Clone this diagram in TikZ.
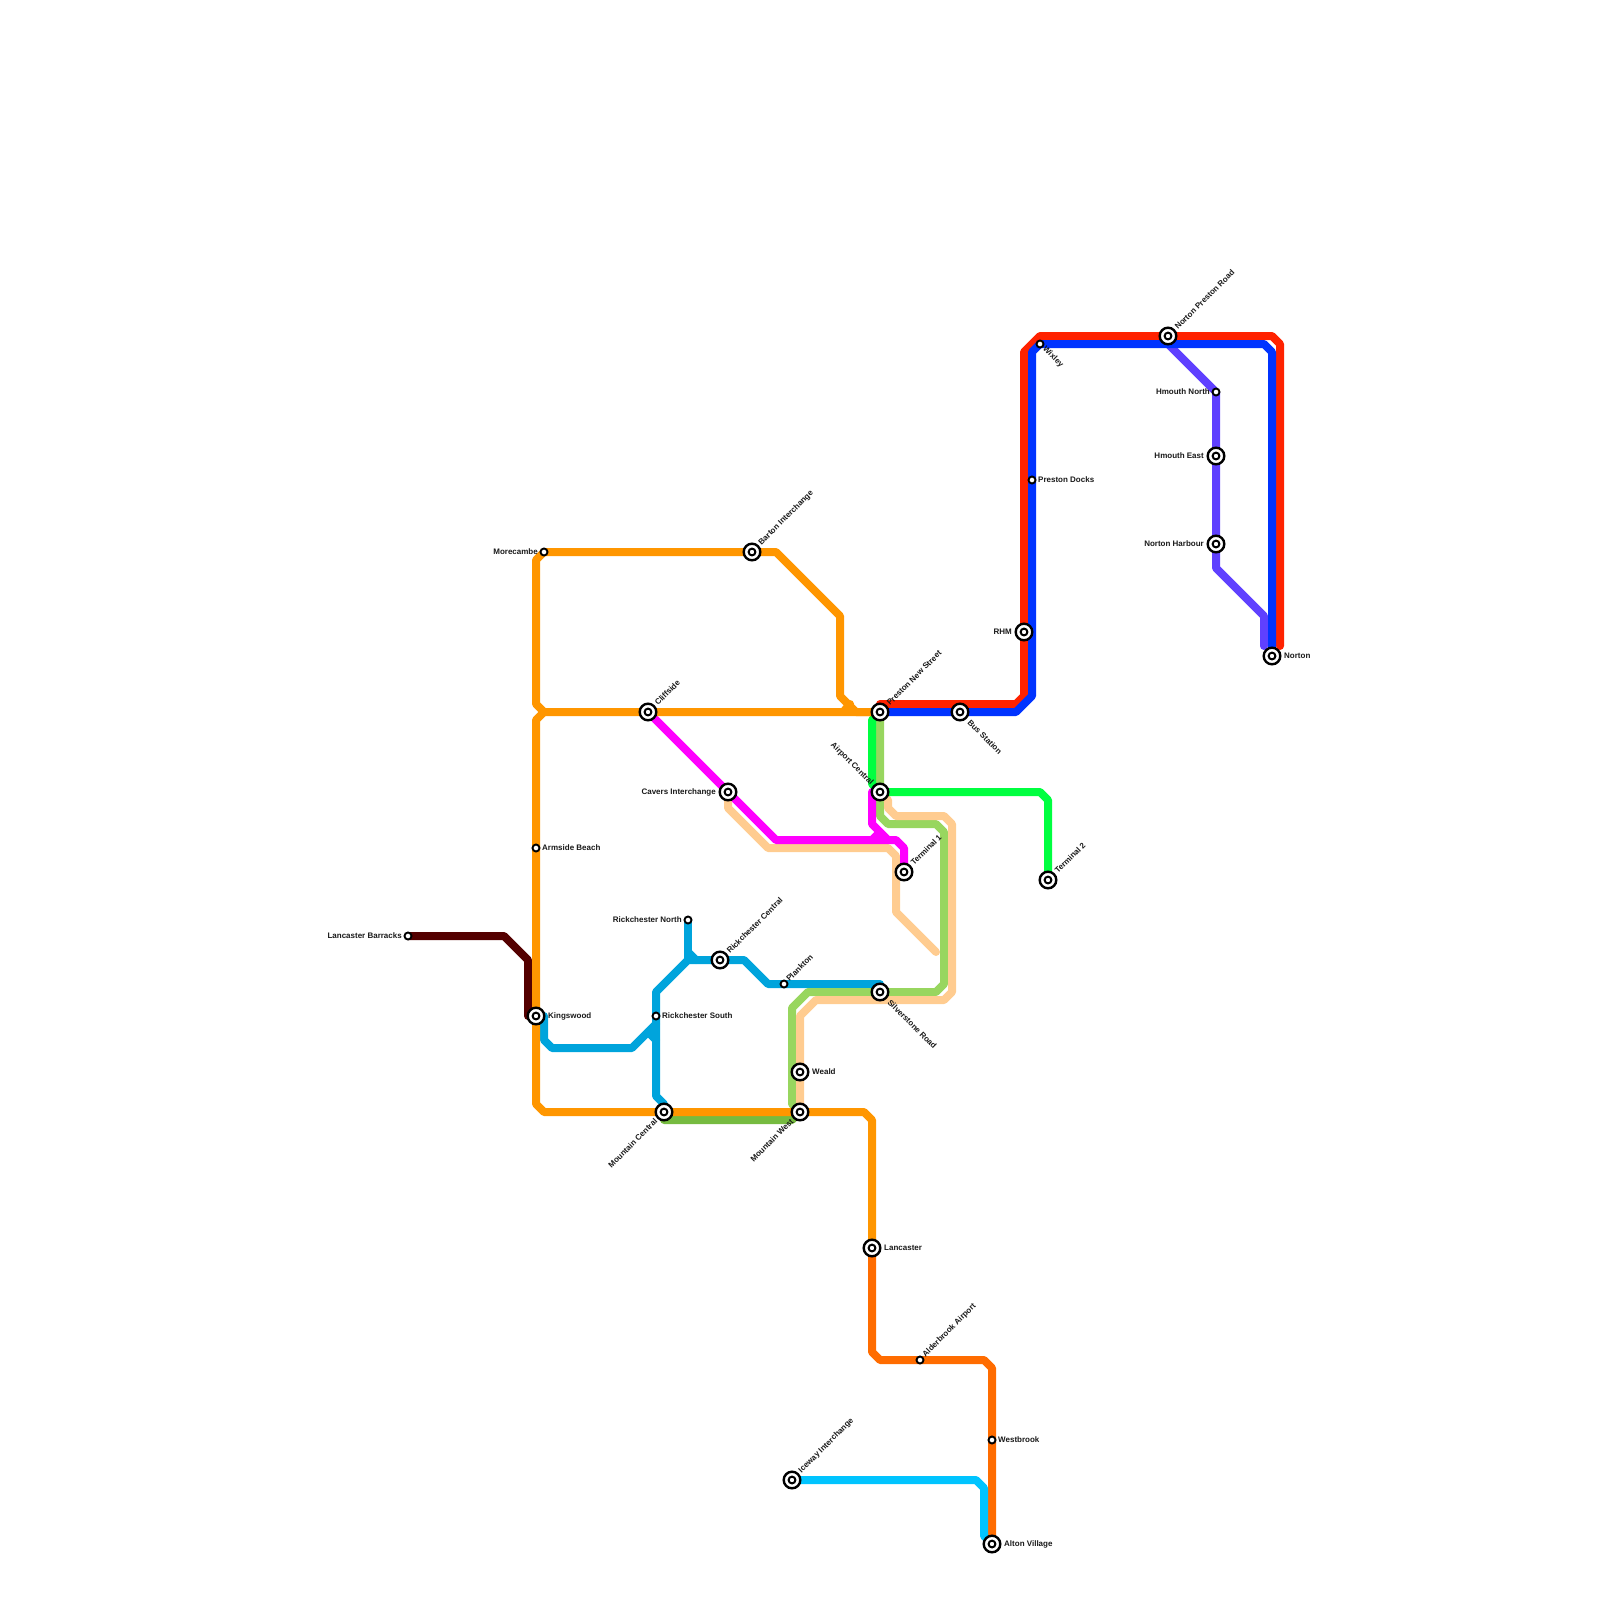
\documentclass[tikz,border=0pt]{standalone}
\usepackage{fontspec}
\setmainfont{Liberation Sans}
\usetikzlibrary{backgrounds}
\definecolor{redline}{HTML}{FF2200}
\definecolor{blueline}{HTML}{0033FF}
\definecolor{purpleline}{HTML}{5F40FF}
\definecolor{orangeline}{HTML}{FF9600}
\definecolor{rustline}{HTML}{FF6C00}
\definecolor{tealline}{HTML}{00A4DC}
\definecolor{cyanline}{HTML}{00C4FF}
\definecolor{leafline}{HTML}{98D65F}
\definecolor{mossline}{HTML}{76BB40}
\definecolor{peachline}{HTML}{FFCC90}
\definecolor{pinkline}{HTML}{FF00FF}
\definecolor{limeline}{HTML}{00FF40}
\definecolor{maroonline}{HTML}{540000}
\tikzset{
  route/.style={line width=8pt, line join=round, line cap=round},
  halt/.style={circle, draw=black, fill=white, line width=1.9pt, minimum size=7pt, inner sep=0pt},
  hub/.style={circle, draw=black, fill=white, line width=2.4pt, minimum size=16.6pt, inner sep=0pt,
    path picture={\draw[black, line width=2pt] (path picture bounding box.center) circle (3.4pt);}},
  stationtxt/.style={font=\bfseries\fontsize{8}{8}\selectfont, inner sep=0pt, text=black!90},
  tr/.style={stationtxt, anchor=west},
  tl/.style={stationtxt, anchor=east},
  tne/.style={stationtxt, anchor=west, rotate=45},
  tse/.style={stationtxt, anchor=west, rotate=-45},
  tnw/.style={stationtxt, anchor=east, rotate=-45},
  tsw/.style={stationtxt, anchor=east, rotate=45},
}
\begin{document}
\begin{tikzpicture}[x=1pt,y=-1pt]
\useasboundingbox (0,0) rectangle (1600,1600);
% stations
\node[halt] (barracks) at (408,936) {};
\node[halt] (armside) at (536,848) {};
\node[halt] (morecambe) at (544,552) {};
\node[hub] (barton) at (752,552) {};
\node[hub] (cliffside) at (648,712) {};
\node[hub] (cavers) at (728,792) {};
\node[hub] (kingswood) at (536,1016) {};
\node[halt] (ricksouth) at (656,1016) {};
\node[halt] (ricknorth) at (688,920) {};
\node[hub] (rickcentral) at (720,960) {};
\node[halt] (plankton) at (784,984) {};
\node[hub] (mountcentral) at (664,1112) {};
\node[hub] (mountwest) at (800,1112) {};
\node[hub] (weald) at (800,1072) {};
\node[hub] (silverstone) at (880,992) {};
\node[hub] (newstreet) at (880,712) {};
\node[hub] (busstation) at (960,712) {};
\node[hub] (airport) at (880,792) {};
\node[hub] (terminala) at (904,872) {};
\node[hub] (terminalb) at (1048,880) {};
\node[hub] (lancaster) at (872,1248) {};
\node[halt] (alderbrook) at (920,1360) {};
\node[halt] (westbrook) at (992,1440) {};
\node[hub] (alton) at (992,1544) {};
\node[hub] (iceway) at (792,1480) {};
\node[hub] (rhm) at (1024,632) {};
\node[halt] (docks) at (1032,480) {};
\node[halt] (wixley) at (1040,344) {};
\node[hub] (nortonroad) at (1168,336) {};
\node[halt] (hmnorth) at (1216,392) {};
\node[hub] (hmeast) at (1216,456) {};
\node[hub] (harbour) at (1216,544) {};
\node[hub] (norton) at (1272,656) {};
% labels
\node[tl] (barrackst) at ([shift={(-6,0)}]barracks) {Lancaster Barracks};
\node[tr] (armsidet) at ([shift={(6,0)}]armside) {Armside Beach};
\node[tl] (morecambet) at ([shift={(-6,0)}]morecambe) {Morecambe};
\node[tne] (bartont) at ([shift={(8,-8)}]barton) {Barton Interchange};
\node[tne] (cliffsidet) at ([shift={(8,-8)}]cliffside) {Cliffside};
\node[tl] (caverst) at ([shift={(-12,0)}]cavers) {Cavers Interchange};
\node[tr] (kingswoodt) at ([shift={(12,0)}]kingswood) {Kingswood};
\node[tr] (ricksoutht) at ([shift={(6,0)}]ricksouth) {Rickchester South};
\node[tl] (ricknortht) at ([shift={(-6,0)}]ricknorth) {Rickchester North};
\node[tne] (rickcentralt) at ([shift={(8,-8)}]rickcentral) {Rickchester Central};
\node[tne] (planktont) at ([shift={(3.5,-4)}]plankton) {Plankton};
\node[tsw] (mountcentralt) at ([shift={(-8,8)}]mountcentral) {Mountain Central};
\node[tsw] (mountwestt) at ([shift={(-8,8)}]mountwest) {Mountain West};
\node[tr] (wealdt) at ([shift={(12,0)}]weald) {Weald};
\node[tse] (silverstonet) at ([shift={(9,9)}]silverstone) {Silverstone Road};
\node[tne] (newstreett) at ([shift={(8,-8)}]newstreet) {Preston New Street};
\node[tse] (busstationt) at ([shift={(9,9)}]busstation) {Bus Station};
\node[tnw] (airportt) at ([shift={(-8,-8)}]airport) {Airport Central};
\node[tne] (terminalat) at ([shift={(8,-8)}]terminala) {Terminal 1};
\node[tne] (terminalbt) at ([shift={(8,-8)}]terminalb) {Terminal 2};
\node[tr] (lancastert) at ([shift={(12,0)}]lancaster) {Lancaster};
\node[tne] (alderbrookt) at ([shift={(4,-4)}]alderbrook) {Alderbrook Airport};
\node[tr] (westbrookt) at ([shift={(6,0)}]westbrook) {Westbrook};
\node[tr] (altont) at ([shift={(12,0)}]alton) {Alton Village};
\node[tne] (icewayt) at ([shift={(8,-8)}]iceway) {Iceway Interchange};
\node[tl] (rhmt) at ([shift={(-12,0)}]rhm) {RHM};
\node[tr] (dockst) at ([shift={(6,0)}]docks) {Preston Docks};
\node[tse] (wixleyt) at ([shift={(4,4)}]wixley) {Wixley};
\node[tne] (nortonroadt) at ([shift={(8,-8)}]nortonroad) {Norton Preston Road};
\node[tl] (hmnortht) at ([shift={(-6,0)}]hmnorth) {Hmouth North};
\node[tl] (hmeastt) at ([shift={(-12,0)}]hmeast) {Hmouth East};
\node[tl] (harbourt) at ([shift={(-12,0)}]harbour) {Norton Harbour};
\node[tr] (nortont) at ([shift={(12,0)}]norton) {Norton};
% free line ends
\coordinate (orangefork) at (544,712);
\coordinate (orangenub) at (850,704);
\coordinate (orangenubb) at (844,711);
\coordinate (tealnub) at (656,1040);
\coordinate (tealnubb) at (648,1032);
\coordinate (pinknub) at (872,840);
\coordinate (pinknubb) at (880,832);
\coordinate (peachend) at (936,952);
\coordinate (redend) at (1280,646);
\coordinate (purpleend) at (1264,646);
\begin{scope}[on background layer]
\draw[route, maroonline] (barracks.center) -- (504,936) -- (528,960) -- (528,1016) -- (kingswood.center);
\draw[route, redline] (newstreet.center) -- (880,704) -- (1016,704) -- (1024,696) -- (1024,352) -- (1040,336) -- (1272,336) -- (1280,344) -- (redend);
\draw[route, purpleline] (nortonroad.center) -- (1168,344) -- (1216,392) -- (1216,568) -- (1264,616) -- (purpleend);
\draw[route, blueline] (newstreet.center) -- (1016,712) -- (1032,696) -- (1032,352) -- (1040,344) -- (1264,344) -- (1272,352) -- (norton.center);
\draw[route, tealline] (kingswood.center) -- (544,1016) -- (544,1040) -- (552,1048) -- (632,1048) -- (656,1024) -- (656,992) -- (688,960) -- (744,960) -- (768,984) -- (silverstone.center |- plankton);
\draw[route, tealline] (656,1024) -- (656,1096) -- (664,1104) -- (mountcentral.center);
\draw[route, tealline] (ricknorth.center) -- (688,960);
\draw[route, tealline] (688,952) -- (696,960);
\draw[route, tealline] (tealnub) -- (tealnubb);
\draw[route, leafline] (newstreet.center) -- (880,816) -- (888,824) -- (936,824) -- (944,832) -- (944,984) -- (936,992) -- (808,992) -- (792,1008) -- (792,1104) -- (mountwest.center);
\draw[route, mossline] (mountcentral.center) -- (664,1120) -- (792,1120) -- (mountwest.center);
\draw[route, peachline] (airport.center) -- (888,800) -- (888,808) -- (896,816) -- (944,816) -- (952,824) -- (952,992) -- (944,1000) -- (816,1000) -- (800,1016) -- (mountwest.center);
\draw[route, peachline] (cavers.center) -- (728,808) -- (768,848) -- (888,848) -- (896,856) -- (896,912) -- (peachend);
\draw[route, pinkline] (cliffside.center) -- (776,840) -- (896,840) -- (904,848) -- (terminala.center);
\draw[route, pinkline] (airport.center) -- (872,792) -- (872,824) -- (888,840);
\draw[route, pinkline] (pinknub) -- (pinknubb);
\draw[route, limeline] (newstreet.center) -- (872,720) -- (872,784) -- (airport.center);
\draw[route, limeline] (airport.center) -- (1040,792) -- (1048,800) -- (terminalb.center);
\draw[route, orangeline] (morecambe.center) -- (776,552) -- (840,616) -- (840,696) -- (856,712) -- (newstreet.center);
\draw[route, orangeline] (morecambe.center) -- (536,560) -- (536,704) -- (orangefork) -- (newstreet.center);
\draw[route, orangeline] (orangefork) -- (536,720) -- (536,1104) -- (544,1112) -- (864,1112) -- (872,1120) -- (lancaster.center);
\draw[route, orangeline] (orangenub) -- (orangenubb);
\draw[route, rustline] (lancaster.center) -- (872,1352) -- (880,1360) -- (984,1360) -- (992,1368) -- (alton.center);
\draw[route, cyanline] (iceway.center) -- (976,1480) -- (984,1488) -- (984,1536) -- (alton.center);
\end{scope}
\end{tikzpicture}
\end{document}
